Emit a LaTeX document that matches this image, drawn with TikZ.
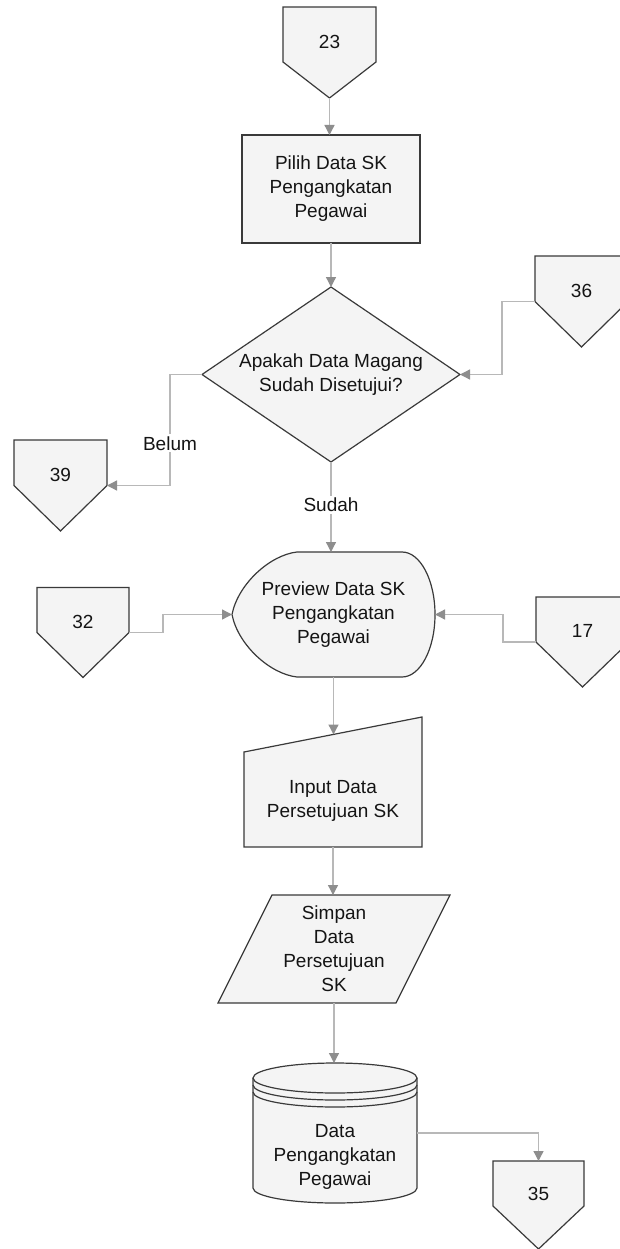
\documentclass[tikz,border=0pt]{standalone}
\usepackage{fontspec}
\setmainfont{Liberation Sans}
\usetikzlibrary{arrows.meta,shapes.geometric}

\definecolor{outline}{HTML}{3A3A3A}
\definecolor{shapefill}{HTML}{F4F4F4}
\definecolor{linegray}{HTML}{B8B8B8}
\definecolor{tipgray}{HTML}{8E8E8E}
\definecolor{ink}{HTML}{141414}

\pgfdeclarelayer{back}
\pgfdeclarelayer{bg}
\pgfsetlayers{back,bg,main}

\tikzset{
  base/.style={draw=none, inner sep=0pt, outer sep=0pt, text=ink,
    font=\fontsize{19}{24}\selectfont},
  offpage/.style={base, minimum width=93pt, minimum height=90pt,
    text height=13.6pt, text depth=22pt},
  outl/.style={draw=outline, fill=shapefill, line width=1.2pt, line join=miter},
  flow/.style={draw=linegray, line width=1.3pt,
    -{Triangle[length=10pt,width=10pt,color=tipgray]}},
  lbl/.style={fill=white, inner sep=2pt, text=ink,
    font=\fontsize{19}{24}\selectfont},
}

% off-page connector outline: #1 node name, #2 drop of the straight sides
\newcommand{\drawoffpage}[2]{%
  \path[outl] (#1.north west) -- (#1.north east) -- ([yshift=-#2]#1.north east)
    -- (#1.south) -- ([yshift=-#2]#1.north west) -- cycle;}

\begin{document}
\begin{tikzpicture}[x=1pt,y=1pt]
\useasboundingbox (0,0) rectangle (619,-1249);
\begin{pgfonlayer}{back}
  \fill[white] (0,0) rectangle (619,-1249);
\end{pgfonlayer}

% off-page connectors
\node[offpage, minimum height=91pt] (c23) at (329.5,-52.5) {23};
\node[offpage, minimum height=91pt] (c36) at (581.5,-301.5) {36};
\node[offpage, minimum height=91pt] (c39) at (60.5,-485.5) {39};
\node[offpage, minimum width=92pt] (c32) at (83,-632.5) {32};
\node[offpage] (c17) at (582.5,-642) {17};
\node[offpage, minimum width=91pt, minimum height=88pt] (c35) at (538.5,-1205) {35};

% process box
\node[base, align=center, draw=outline, fill=shapefill, line width=1.2pt,
  minimum width=178pt, minimum height=108pt] (pl) at (331,-189)
  {Pilih Data SK\\Pengangkatan\\Pegawai};

% decision
\node[base, diamond, outl, align=center, minimum width=258pt,
  minimum height=175pt, shape aspect=1.47] (dm) at (331,-374.5)
  {Apakah Data Magang\\Sudah Disetujui?};

% display
\node[base, align=center, minimum width=203pt, minimum height=125pt]
  (pv) at (333.5,-614.5) {Preview Data SK\\Pengangkatan\\Pegawai};

% manual input
\node[base, minimum width=178pt, minimum height=112.5pt,
  label={[base, align=center, yshift=-9.75pt]center:Input Data\\Persetujuan SK}]
  (in) at (333,-790.75) {};

% data (parallelogram)
\node[base, align=center, minimum width=178pt, minimum height=108pt]
  (sv) at (334,-949) {Simpan\\Data\\Persetujuan\\SK};

% stored data (cylinder)
\node[base, minimum width=164pt, minimum height=140pt,
  label={[base, align=center, yshift=-24pt]center:Data\\Pengangkatan\\Pegawai}]
  (db) at (335,-1133) {};

% shape outlines behind the texts
\begin{pgfonlayer}{bg}
  \drawoffpage{c23}{55pt}
  \drawoffpage{c36}{45.5pt}
  \drawoffpage{c39}{45.5pt}
  \drawoffpage{c32}{45pt}
  \drawoffpage{c17}{45pt}
  \drawoffpage{c35}{45pt}

  \path[outl] ([xshift=65pt]pv.north west) -- ([xshift=-33pt]pv.north east)
    arc[start angle=90, end angle=-90, x radius=33pt, y radius=62.5pt]
    -- ([xshift=65pt]pv.south west)
    .. controls ([xshift=38pt,yshift=3pt]pv.south west)
       and ([xshift=6pt,yshift=32pt]pv.south west) .. (pv.west)
    .. controls ([xshift=6pt,yshift=-32pt]pv.north west)
       and ([xshift=38pt,yshift=-3pt]pv.north west) .. ([xshift=65pt]pv.north west)
    -- cycle;

  \path[outl] ([yshift=-17.5pt]in.north west) -- ([yshift=17.5pt]in.north east)
    -- (in.south east) -- (in.south west) -- cycle;

  \path[outl] ([xshift=27pt]sv.north west) -- ([xshift=27pt]sv.north east)
    -- ([xshift=-27pt]sv.south east) -- ([xshift=-27pt]sv.south west) -- cycle;

  \path[outl] ([yshift=-15pt]db.north west) -- ([yshift=15pt]db.south west)
    arc[start angle=180, end angle=360, x radius=82pt, y radius=15pt]
    -- ([yshift=-15pt]db.north east)
    arc[start angle=0, end angle=180, x radius=82pt, y radius=15pt] -- cycle;
  \draw[draw=outline, line width=1.2pt] ([yshift=-15pt]db.north west)
    arc[start angle=180, end angle=360, x radius=82pt, y radius=15pt];
  \draw[draw=outline, line width=1.2pt] ([yshift=-22pt]db.north west)
    arc[start angle=180, end angle=360, x radius=82pt, y radius=15pt];
  \draw[draw=outline, line width=1.2pt] ([yshift=-29pt]db.north west)
    arc[start angle=180, end angle=360, x radius=82pt, y radius=15pt];
\end{pgfonlayer}

% connectors
\draw[flow] (c23.south) -- (c23.south |- pl.north);
\draw[flow] (pl.south) -- (pl.south |- dm.north);
\draw[flow] (c36.west) -- ++(-33,0) |- (dm.east);
\draw[flow] (dm.west) -- ++(-32,0) |- node[lbl, pos=0.31] {Belum} (c39.east);
\draw[flow] (dm.south) -- node[lbl, pos=0.48] {Sudah} (dm.south |- pv.north);
\draw[flow] (c32.east) -- ++(34,0) |- (pv.west);
\draw[flow] (c17.west) -- ++(-33,0) |- (pv.east);
\draw[flow] (pv.south) -- (pv.south |- in.north);
\draw[flow] (in.south) -- (in.south |- sv.north);
\draw[flow] (sv.south) -- (sv.south |- db.north);
\draw[flow] (db.east) -| (c35.north);
\end{tikzpicture}
\end{document}
